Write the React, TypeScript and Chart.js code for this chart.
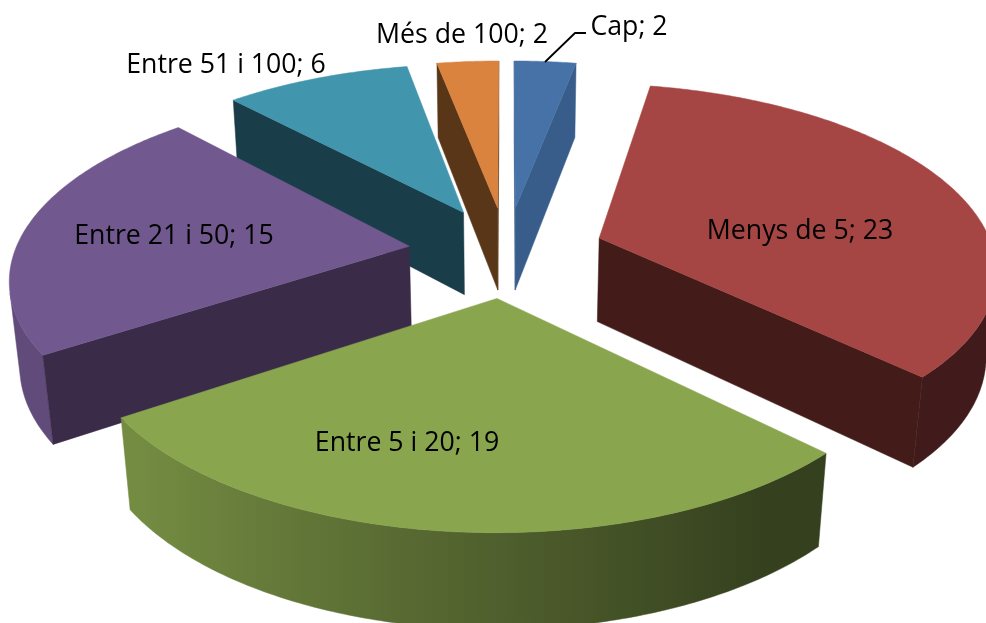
import React, { useEffect, useRef } from "react";
import { Chart, registerables } from "chart.js";

Chart.register(...registerables);

const categories = ["Cap", "Menys de 5", "Entre 5 i 20", "Entre 21 i 50", "Entre 51 i 100", "Més de 100"];
const values = [2, 23, 19, 15, 6, 2];

const topColors = ["#4672A7", "#A64644", "#89A54E", "#71588F", "#4195AC", "#D9833E"];
const sideColors = ["#385D8A", "#431C19", "#33401B", "#3A2B49", "#1A3D4A", "#5A3618"];
const baseRgb = [[70, 114, 167], [166, 70, 68], [137, 165, 78], [113, 88, 143], [65, 149, 172], [217, 131, 62]];

// centre of each label on the canvas and its baseline
const labelAnchors = [[629, 35], [800, 239], [407, 451], [174, 244], [226, 73], [462, 43]];

// perspective camera for the tilted pie
const cam = { cx: 506.5, cy: 251.5, f: 394.5, g: 182, p: 0.154, h: 86, r: 0.021 };

type P = [number, number];

function project(X: number, Y: number, Z: number): P {
  const w = 1 + cam.p * Y + cam.r * Z;
  return [cam.cx + (cam.f * X) / w, cam.cy + (-cam.g * Y + cam.h * Z) / w];
}

function area(pts: P[]) {
  let s = 0;
  for (let i = 0; i < pts.length; i++) {
    const a = pts[i];
    const b = pts[(i + 1) % pts.length];
    s += a[0] * b[1] - b[0] * a[1];
  }
  return s;
}

function fillPoly(ctx: CanvasRenderingContext2D, pts: P[], color: any) {
  ctx.beginPath();
  pts.forEach((q, i) => (i ? ctx.lineTo(q[0], q[1]) : ctx.moveTo(q[0], q[1])));
  ctx.closePath();
  ctx.fillStyle = color;
  ctx.strokeStyle = color;
  ctx.lineWidth = 0.5;
  ctx.lineJoin = "round";
  ctx.fill();
  ctx.stroke();
}

const shadeAt = (cosA: number) => Math.min(0.85, Math.max(0.39, 0.58 - 0.335 * cosA));

const pie3d = {
  id: "pie3d",
  beforeDatasetsDraw(chart: any) {
    const ctx: CanvasRenderingContext2D = chart.ctx;
    const arcs = chart.getDatasetMeta(0).data.map((el: any, index: number) => ({ el, index }));
    const midOf = (el: any) => (el.startAngle + el.endAngle) / 2;
    arcs.sort((a: any, b: any) => Math.sin(midOf(a.el)) - Math.sin(midOf(b.el)));
    for (const { el, index } of arcs) {
      const e = el.options.offset / el.outerRadius;
      const mid = midOf(el);
      const ox = e * Math.cos(mid);
      const oy = -e * Math.sin(mid);
      const rim = (a: number, z: number) => project(ox + Math.cos(a), oy - Math.sin(a), z);
      const apex = (z: number) => project(ox, oy, z);
      const a0 = el.startAngle;
      const a1 = el.endAngle;
      const side = sideColors[index];

      // outer curved wall: the part of the rim that faces the viewer, one shape with a gradient
      const steps = Math.ceil((a1 - a0) / 0.012);
      const upper: P[] = [];
      const lower: P[] = [];
      const angles: number[] = [];
      for (let i = 0; i < steps; i++) {
        const u = a0 + ((a1 - a0) * i) / steps;
        const v = a0 + ((a1 - a0) * (i + 1)) / steps;
        if (area([rim(u, 0), rim(u, 1), rim(v, 1), rim(v, 0)]) <= 0) continue;
        if (!upper.length) {
          upper.push(rim(u, 0));
          lower.push(rim(u, 1));
          angles.push(u);
        }
        upper.push(rim(v, 0));
        lower.push(rim(v, 1));
        angles.push(v);
      }
      if (upper.length) {
        const xs = upper.concat(lower).map((q) => q[0]);
        const minX = Math.min(...xs);
        const maxX = Math.max(...xs);
        const grad = ctx.createLinearGradient(minX, 0, maxX, 0);
        const [r, g, b] = baseRgb[index];
        angles.forEach((a, i) => {
          if (i % 6) return;
          const x = (upper[i][0] + lower[i][0]) / 2;
          const s = shadeAt(Math.cos(a));
          grad.addColorStop(Math.min(1, Math.max(0, (x - minX) / (maxX - minX))), `rgb(${r * s},${g * s},${b * s})`);
        });
        fillPoly(ctx, upper.concat(lower.slice().reverse()), grad);
      }

      const endWall: P[] = [apex(0), rim(a1, 0), rim(a1, 1), apex(1)];
      if (area(endWall) > 0) fillPoly(ctx, endWall, side);
      const startWall: P[] = [apex(0), apex(1), rim(a0, 1), rim(a0, 0)];
      if (area(startWall) > 0) fillPoly(ctx, startWall, side);

      const top: P[] = [apex(0)];
      const n = Math.ceil((a1 - a0) / 0.01);
      for (let i = 0; i <= n; i++) top.push(rim(a0 + ((a1 - a0) * i) / n, 0));
      fillPoly(ctx, top, topColors[index]);
    }
    return false;
  },
  afterDraw(chart: any) {
    const ctx: CanvasRenderingContext2D = chart.ctx;
    ctx.save();
    ctx.font = '26.7px "Open Sans"';
    ctx.fillStyle = "#000000";
    ctx.textAlign = "center";
    ctx.textBaseline = "alphabetic";
    categories.forEach((c, i) => {
      ctx.fillText(`${c}; ${values[i]}`, labelAnchors[i][0], labelAnchors[i][1]);
    });
    ctx.strokeStyle = "#000000";
    ctx.lineWidth = 1.8;
    ctx.beginPath();
    ctx.moveTo(545, 62);
    ctx.lineTo(575, 33);
    ctx.lineTo(586, 33);
    ctx.stroke();
    ctx.restore();
  },
};

export default function App() {
  const ref = useRef<HTMLCanvasElement>(null);
  useEffect(() => {
    const chart = new Chart(ref.current as HTMLCanvasElement, {
      type: "pie",
      data: {
        labels: categories,
        datasets: [{ data: values, backgroundColor: topColors, borderWidth: 0, offset: 69 }],
      },
      options: {
        responsive: false,
        animation: false,
        events: [],
        layout: { padding: 0 },
        plugins: { legend: { display: false }, tooltip: { enabled: false } },
      },
      plugins: [pie3d],
    } as any);
    return () => chart.destroy();
  }, []);
  return (
    <div style={{ position: "absolute", left: 0, top: 0, width: 986, height: 623, overflow: "hidden", background: "#fff" }}>
      <canvas ref={ref} width={986} height={623} style={{ display: "block" }} />
    </div>
  );
}
